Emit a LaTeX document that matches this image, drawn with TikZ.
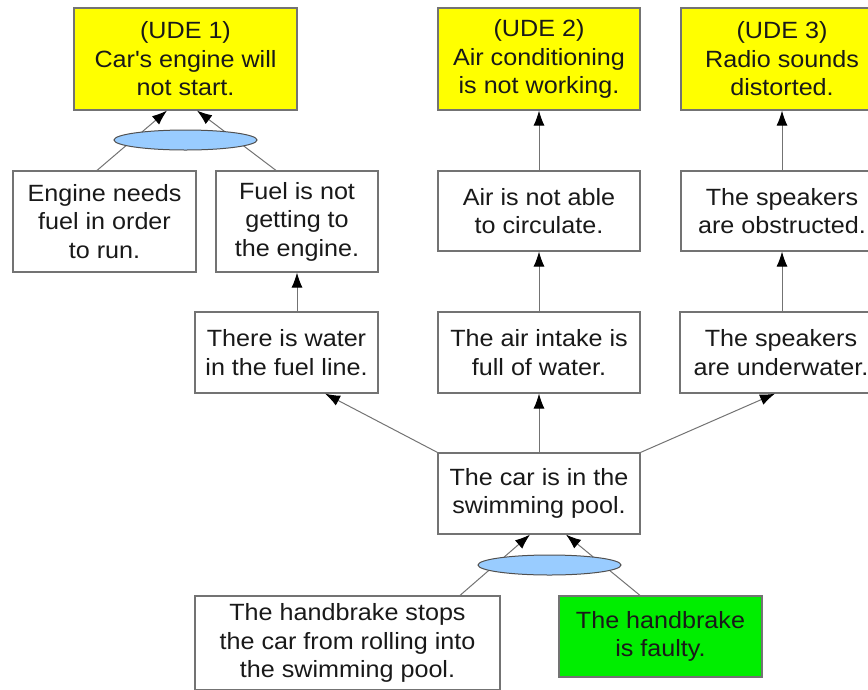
\documentclass[tikz,border=0pt]{standalone}
\usepackage{fontspec}
\setmainfont{Liberation Sans}[FakeStretch=1.07]
\usetikzlibrary{arrows.meta}
\usetikzlibrary{calc}
\usetikzlibrary{shapes.geometric}
\definecolor{udeyellow}{RGB}{255,255,0}
\definecolor{rootgreen}{RGB}{0,238,0}
\definecolor{andblue}{RGB}{153,204,255}
\definecolor{linegray}{RGB}{115,115,115}

\begin{document}
\begin{tikzpicture}[x=1pt, y=-1pt, >={Latex[length=15pt,width=11pt,color=black]},
  box/.style={draw=linegray, line width=1.2pt, fill=white, align=center, inner sep=0pt,
    font=\fontsize{23.5}{28.5}\selectfont, text=black!90},
  udebox/.style={box, fill=udeyellow},
  rootbox/.style={box, fill=rootgreen},
  andnode/.style={ellipse, draw=linegray!70!black, line width=1pt, fill=andblue,
    minimum width=143pt, minimum height=20pt, inner sep=0pt},
  link/.style={->, draw=linegray, line width=1pt}]
\useasboundingbox (0,0) rectangle (868,689);
\node[udebox, minimum width=223pt, minimum height=102pt] (1) at (185.5,59) {(UDE 1)\\Car\textquotesingle s engine will\\not start.};
\node[udebox, minimum width=202pt, minimum height=102pt] (2) at (539,59) {(UDE 2)\\Air conditioning\\is not working.};
\node[udebox, minimum width=202pt, minimum height=102pt] (3) at (782,59) {(UDE 3)\\Radio sounds\\distorted.};
\node[box, minimum width=183pt, minimum height=101pt] (4) at (104.5,221.5) {Engine needs\\fuel in order\\to run.};
\node[box, minimum width=162pt, minimum height=101pt] (5) at (297,221.5) {Fuel is not\\getting to\\the engine.};
\node[box, minimum width=202pt, minimum height=80pt] (6) at (539,211) {Air is not able\\to circulate.};
\node[box, minimum width=202pt, minimum height=80pt] (7) at (782,211) {The speakers\\are obstructed.};
\node[box, minimum width=183pt, minimum height=81pt] (8) at (286.5,352.5) {There is water\\in the fuel line.};
\node[box, minimum width=202pt, minimum height=81pt] (9) at (539,352.5) {The air intake is\\full of water.};
\node[box, minimum width=202pt, minimum height=81pt] (10) at (781,352.5) {The speakers\\are underwater.};
\node[box, minimum width=202pt, minimum height=81pt] (11) at (539,493.5) {The car is in the\\swimming pool.};
\node[box, minimum width=305pt, minimum height=94pt] (12) at (347.5,643) {The handbrake stops\\the car from rolling into\\the swimming pool.};
\node[rootbox, minimum width=203pt, minimum height=81pt] (13) at (660.5,636.5) {The handbrake\\is faulty.};
 \draw[link] (6)--(2);
 \draw[link] (7)--(3);
 \draw[link] (9)--(6);
 \draw[link] (10.north -| 7.south)--(7);
 \draw[link] (8.north -| 5.south)--(5);
  \draw[link] (11.north west)--($(8.south)+(38.5,0)$);
  \draw[link] (11)--(9);
  \draw[link] (11.north east)--($(10.south)+(-6,0)$);
   \draw[link] ($(4.north)+(-7.5,0)$)--($(1.south)+(-18.5,0)$);
   \draw[link] ($(5.north)+(-21,0)$)--($(1.south)+(11.5,0)$);
   \draw[link] ($(12.north)+(112.5,0)$)--($(11.south)+(-9,0)$);
   \draw[link] ($(13.north)+(-20.5,0)$)--($(11.south)+(27,0)$);
\node[andnode] (a) at (185.5,140) {};
\node[andnode] (b) at (549.5,565) {};
\end{tikzpicture}
\end{document}
